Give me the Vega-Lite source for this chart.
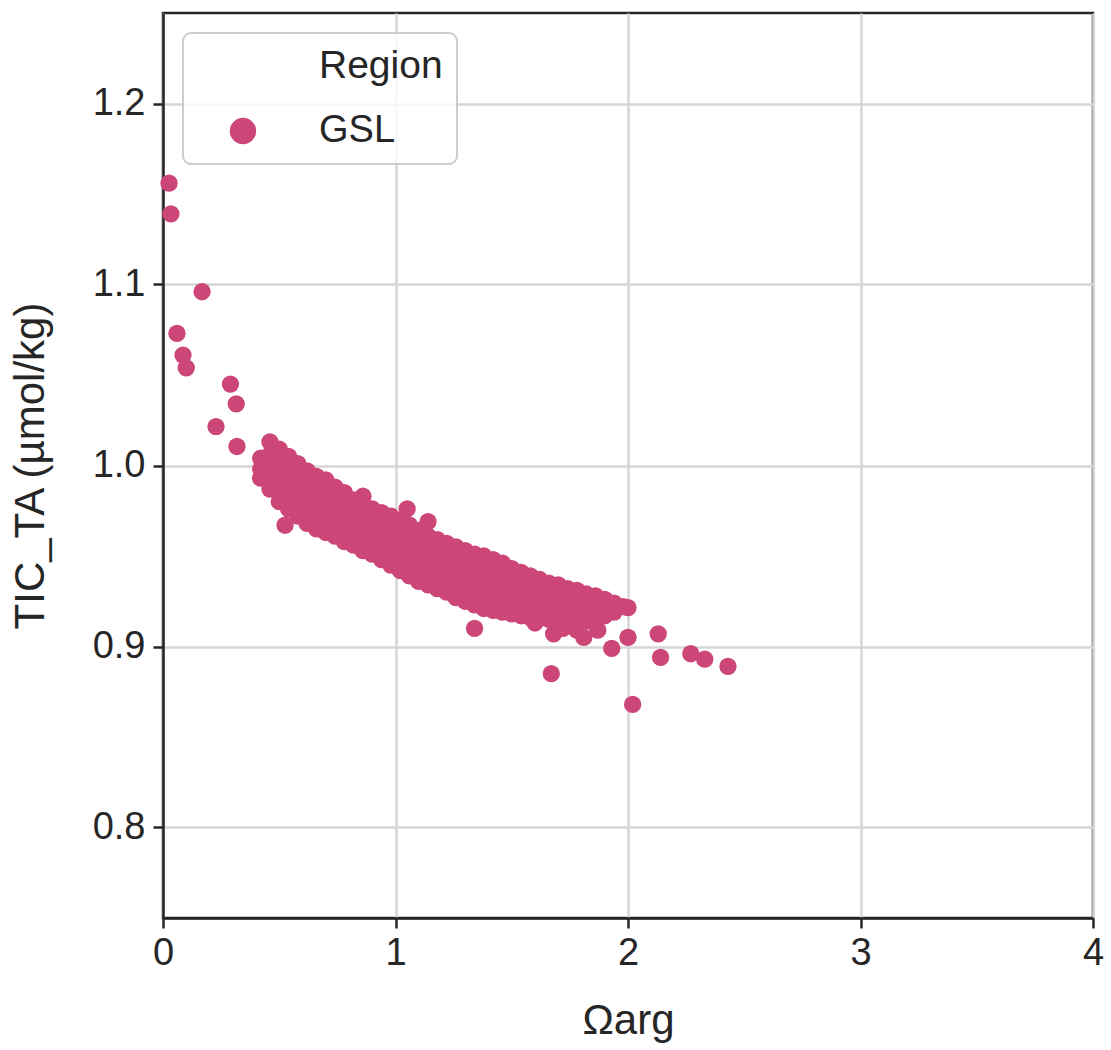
{
  "$schema": "https://vega.github.io/schema/vega-lite/v6.json",
  "width": 930,
  "height": 905,
  "autosize": {"type": "none"},
  "padding": {"left": 163, "top": 13, "right": 18, "bottom": 132},
  "background": "white",
  "config": {
    "font": "Liberation Sans",
    "view": {"stroke": "#262626", "strokeWidth": 2.5},
    "axis": {
      "domainColor": "#262626",
      "domainWidth": 2.5,
      "tickColor": "#262626",
      "tickWidth": 2.5,
      "tickSize": 10,
      "gridColor": "#d6d6d6",
      "gridWidth": 2.5,
      "labelFontSize": 38,
      "labelColor": "#262626",
      "labelFlush": false,
      "labelOverlap": false,
      "titleFontSize": 42,
      "titleFontWeight": "normal",
      "titleColor": "#262626"
    }
  },
  "data": {
    "values": [
      {"Region": "GSL", "omega": 0.026, "tic": 1.156},
      {"Region": "GSL", "omega": 0.034, "tic": 1.139},
      {"Region": "GSL", "omega": 0.168, "tic": 1.096},
      {"Region": "GSL", "omega": 0.06, "tic": 1.073},
      {"Region": "GSL", "omega": 0.086, "tic": 1.061},
      {"Region": "GSL", "omega": 0.1, "tic": 1.054},
      {"Region": "GSL", "omega": 0.29, "tic": 1.045},
      {"Region": "GSL", "omega": 0.315, "tic": 1.034},
      {"Region": "GSL", "omega": 0.228, "tic": 1.0215},
      {"Region": "GSL", "omega": 0.318, "tic": 1.0105},
      {"Region": "GSL", "omega": 0.42, "tic": 1.004},
      {"Region": "GSL", "omega": 0.42, "tic": 0.998},
      {"Region": "GSL", "omega": 0.42, "tic": 0.993},
      {"Region": "GSL", "omega": 0.46, "tic": 1.013},
      {"Region": "GSL", "omega": 0.46, "tic": 1.006},
      {"Region": "GSL", "omega": 0.46, "tic": 1.0},
      {"Region": "GSL", "omega": 0.46, "tic": 0.993},
      {"Region": "GSL", "omega": 0.46, "tic": 0.987},
      {"Region": "GSL", "omega": 0.5, "tic": 1.009},
      {"Region": "GSL", "omega": 0.5, "tic": 1.002},
      {"Region": "GSL", "omega": 0.5, "tic": 0.995},
      {"Region": "GSL", "omega": 0.5, "tic": 0.987},
      {"Region": "GSL", "omega": 0.5, "tic": 0.98},
      {"Region": "GSL", "omega": 0.54, "tic": 1.005},
      {"Region": "GSL", "omega": 0.54, "tic": 0.998},
      {"Region": "GSL", "omega": 0.54, "tic": 0.99},
      {"Region": "GSL", "omega": 0.54, "tic": 0.983},
      {"Region": "GSL", "omega": 0.54, "tic": 0.976},
      {"Region": "GSL", "omega": 0.58, "tic": 1.001},
      {"Region": "GSL", "omega": 0.58, "tic": 0.994},
      {"Region": "GSL", "omega": 0.58, "tic": 0.987},
      {"Region": "GSL", "omega": 0.58, "tic": 0.979},
      {"Region": "GSL", "omega": 0.58, "tic": 0.972},
      {"Region": "GSL", "omega": 0.62, "tic": 0.997},
      {"Region": "GSL", "omega": 0.62, "tic": 0.99},
      {"Region": "GSL", "omega": 0.62, "tic": 0.983},
      {"Region": "GSL", "omega": 0.62, "tic": 0.975},
      {"Region": "GSL", "omega": 0.62, "tic": 0.968},
      {"Region": "GSL", "omega": 0.66, "tic": 0.994},
      {"Region": "GSL", "omega": 0.66, "tic": 0.987},
      {"Region": "GSL", "omega": 0.66, "tic": 0.98},
      {"Region": "GSL", "omega": 0.66, "tic": 0.972},
      {"Region": "GSL", "omega": 0.66, "tic": 0.965},
      {"Region": "GSL", "omega": 0.7, "tic": 0.992},
      {"Region": "GSL", "omega": 0.7, "tic": 0.985},
      {"Region": "GSL", "omega": 0.7, "tic": 0.978},
      {"Region": "GSL", "omega": 0.7, "tic": 0.97},
      {"Region": "GSL", "omega": 0.7, "tic": 0.963},
      {"Region": "GSL", "omega": 0.74, "tic": 0.988},
      {"Region": "GSL", "omega": 0.74, "tic": 0.981},
      {"Region": "GSL", "omega": 0.74, "tic": 0.974},
      {"Region": "GSL", "omega": 0.74, "tic": 0.967},
      {"Region": "GSL", "omega": 0.74, "tic": 0.961},
      {"Region": "GSL", "omega": 0.78, "tic": 0.985},
      {"Region": "GSL", "omega": 0.78, "tic": 0.978},
      {"Region": "GSL", "omega": 0.78, "tic": 0.971},
      {"Region": "GSL", "omega": 0.78, "tic": 0.964},
      {"Region": "GSL", "omega": 0.78, "tic": 0.958},
      {"Region": "GSL", "omega": 0.82, "tic": 0.981},
      {"Region": "GSL", "omega": 0.82, "tic": 0.975},
      {"Region": "GSL", "omega": 0.82, "tic": 0.968},
      {"Region": "GSL", "omega": 0.82, "tic": 0.962},
      {"Region": "GSL", "omega": 0.82, "tic": 0.956},
      {"Region": "GSL", "omega": 0.86, "tic": 0.983},
      {"Region": "GSL", "omega": 0.86, "tic": 0.978},
      {"Region": "GSL", "omega": 0.86, "tic": 0.972},
      {"Region": "GSL", "omega": 0.86, "tic": 0.966},
      {"Region": "GSL", "omega": 0.86, "tic": 0.959},
      {"Region": "GSL", "omega": 0.86, "tic": 0.953},
      {"Region": "GSL", "omega": 0.9, "tic": 0.976},
      {"Region": "GSL", "omega": 0.9, "tic": 0.97},
      {"Region": "GSL", "omega": 0.9, "tic": 0.963},
      {"Region": "GSL", "omega": 0.9, "tic": 0.957},
      {"Region": "GSL", "omega": 0.9, "tic": 0.951},
      {"Region": "GSL", "omega": 0.94, "tic": 0.974},
      {"Region": "GSL", "omega": 0.94, "tic": 0.967},
      {"Region": "GSL", "omega": 0.94, "tic": 0.961},
      {"Region": "GSL", "omega": 0.94, "tic": 0.954},
      {"Region": "GSL", "omega": 0.94, "tic": 0.948},
      {"Region": "GSL", "omega": 0.98, "tic": 0.972},
      {"Region": "GSL", "omega": 0.98, "tic": 0.965},
      {"Region": "GSL", "omega": 0.98, "tic": 0.958},
      {"Region": "GSL", "omega": 0.98, "tic": 0.952},
      {"Region": "GSL", "omega": 0.98, "tic": 0.945},
      {"Region": "GSL", "omega": 1.02, "tic": 0.97},
      {"Region": "GSL", "omega": 1.02, "tic": 0.963},
      {"Region": "GSL", "omega": 1.02, "tic": 0.956},
      {"Region": "GSL", "omega": 1.02, "tic": 0.949},
      {"Region": "GSL", "omega": 1.02, "tic": 0.942},
      {"Region": "GSL", "omega": 1.05, "tic": 0.976},
      {"Region": "GSL", "omega": 1.06, "tic": 0.967},
      {"Region": "GSL", "omega": 1.06, "tic": 0.96},
      {"Region": "GSL", "omega": 1.06, "tic": 0.953},
      {"Region": "GSL", "omega": 1.06, "tic": 0.946},
      {"Region": "GSL", "omega": 1.06, "tic": 0.939},
      {"Region": "GSL", "omega": 1.1, "tic": 0.964},
      {"Region": "GSL", "omega": 1.1, "tic": 0.957},
      {"Region": "GSL", "omega": 1.1, "tic": 0.95},
      {"Region": "GSL", "omega": 1.1, "tic": 0.943},
      {"Region": "GSL", "omega": 1.1, "tic": 0.936},
      {"Region": "GSL", "omega": 1.14, "tic": 0.969},
      {"Region": "GSL", "omega": 1.14, "tic": 0.961},
      {"Region": "GSL", "omega": 1.14, "tic": 0.954},
      {"Region": "GSL", "omega": 1.14, "tic": 0.948},
      {"Region": "GSL", "omega": 1.14, "tic": 0.941},
      {"Region": "GSL", "omega": 1.14, "tic": 0.934},
      {"Region": "GSL", "omega": 1.18, "tic": 0.959},
      {"Region": "GSL", "omega": 1.18, "tic": 0.952},
      {"Region": "GSL", "omega": 1.18, "tic": 0.946},
      {"Region": "GSL", "omega": 1.18, "tic": 0.939},
      {"Region": "GSL", "omega": 1.18, "tic": 0.932},
      {"Region": "GSL", "omega": 1.22, "tic": 0.957},
      {"Region": "GSL", "omega": 1.22, "tic": 0.95},
      {"Region": "GSL", "omega": 1.22, "tic": 0.944},
      {"Region": "GSL", "omega": 1.22, "tic": 0.937},
      {"Region": "GSL", "omega": 1.22, "tic": 0.93},
      {"Region": "GSL", "omega": 1.26, "tic": 0.955},
      {"Region": "GSL", "omega": 1.26, "tic": 0.948},
      {"Region": "GSL", "omega": 1.26, "tic": 0.941},
      {"Region": "GSL", "omega": 1.26, "tic": 0.934},
      {"Region": "GSL", "omega": 1.26, "tic": 0.927},
      {"Region": "GSL", "omega": 1.3, "tic": 0.953},
      {"Region": "GSL", "omega": 1.3, "tic": 0.946},
      {"Region": "GSL", "omega": 1.3, "tic": 0.939},
      {"Region": "GSL", "omega": 1.3, "tic": 0.932},
      {"Region": "GSL", "omega": 1.3, "tic": 0.925},
      {"Region": "GSL", "omega": 1.34, "tic": 0.951},
      {"Region": "GSL", "omega": 1.34, "tic": 0.944},
      {"Region": "GSL", "omega": 1.34, "tic": 0.937},
      {"Region": "GSL", "omega": 1.34, "tic": 0.93},
      {"Region": "GSL", "omega": 1.34, "tic": 0.923},
      {"Region": "GSL", "omega": 1.34, "tic": 0.91},
      {"Region": "GSL", "omega": 1.38, "tic": 0.95},
      {"Region": "GSL", "omega": 1.38, "tic": 0.943},
      {"Region": "GSL", "omega": 1.38, "tic": 0.935},
      {"Region": "GSL", "omega": 1.38, "tic": 0.928},
      {"Region": "GSL", "omega": 1.38, "tic": 0.921},
      {"Region": "GSL", "omega": 1.42, "tic": 0.948},
      {"Region": "GSL", "omega": 1.42, "tic": 0.941},
      {"Region": "GSL", "omega": 1.42, "tic": 0.934},
      {"Region": "GSL", "omega": 1.42, "tic": 0.927},
      {"Region": "GSL", "omega": 1.42, "tic": 0.92},
      {"Region": "GSL", "omega": 1.46, "tic": 0.946},
      {"Region": "GSL", "omega": 1.46, "tic": 0.939},
      {"Region": "GSL", "omega": 1.46, "tic": 0.932},
      {"Region": "GSL", "omega": 1.46, "tic": 0.926},
      {"Region": "GSL", "omega": 1.46, "tic": 0.919},
      {"Region": "GSL", "omega": 1.5, "tic": 0.943},
      {"Region": "GSL", "omega": 1.5, "tic": 0.937},
      {"Region": "GSL", "omega": 1.5, "tic": 0.93},
      {"Region": "GSL", "omega": 1.5, "tic": 0.924},
      {"Region": "GSL", "omega": 1.5, "tic": 0.918},
      {"Region": "GSL", "omega": 1.54, "tic": 0.941},
      {"Region": "GSL", "omega": 1.54, "tic": 0.935},
      {"Region": "GSL", "omega": 1.54, "tic": 0.929},
      {"Region": "GSL", "omega": 1.54, "tic": 0.923},
      {"Region": "GSL", "omega": 1.54, "tic": 0.917},
      {"Region": "GSL", "omega": 1.58, "tic": 0.939},
      {"Region": "GSL", "omega": 1.58, "tic": 0.933},
      {"Region": "GSL", "omega": 1.58, "tic": 0.927},
      {"Region": "GSL", "omega": 1.58, "tic": 0.922},
      {"Region": "GSL", "omega": 1.58, "tic": 0.916},
      {"Region": "GSL", "omega": 1.6, "tic": 0.913},
      {"Region": "GSL", "omega": 1.62, "tic": 0.937},
      {"Region": "GSL", "omega": 1.62, "tic": 0.93},
      {"Region": "GSL", "omega": 1.62, "tic": 0.923},
      {"Region": "GSL", "omega": 1.62, "tic": 0.916},
      {"Region": "GSL", "omega": 1.66, "tic": 0.935},
      {"Region": "GSL", "omega": 1.66, "tic": 0.928},
      {"Region": "GSL", "omega": 1.66, "tic": 0.922},
      {"Region": "GSL", "omega": 1.66, "tic": 0.915},
      {"Region": "GSL", "omega": 1.68, "tic": 0.907},
      {"Region": "GSL", "omega": 1.67, "tic": 0.885},
      {"Region": "GSL", "omega": 1.7, "tic": 0.934},
      {"Region": "GSL", "omega": 1.7, "tic": 0.928},
      {"Region": "GSL", "omega": 1.7, "tic": 0.921},
      {"Region": "GSL", "omega": 1.7, "tic": 0.915},
      {"Region": "GSL", "omega": 1.72, "tic": 0.91},
      {"Region": "GSL", "omega": 1.74, "tic": 0.932},
      {"Region": "GSL", "omega": 1.74, "tic": 0.926},
      {"Region": "GSL", "omega": 1.74, "tic": 0.92},
      {"Region": "GSL", "omega": 1.74, "tic": 0.914},
      {"Region": "GSL", "omega": 1.78, "tic": 0.931},
      {"Region": "GSL", "omega": 1.78, "tic": 0.925},
      {"Region": "GSL", "omega": 1.78, "tic": 0.919},
      {"Region": "GSL", "omega": 1.78, "tic": 0.914},
      {"Region": "GSL", "omega": 1.78, "tic": 0.909},
      {"Region": "GSL", "omega": 1.81, "tic": 0.905},
      {"Region": "GSL", "omega": 1.82, "tic": 0.929},
      {"Region": "GSL", "omega": 1.82, "tic": 0.922},
      {"Region": "GSL", "omega": 1.82, "tic": 0.914},
      {"Region": "GSL", "omega": 1.86, "tic": 0.928},
      {"Region": "GSL", "omega": 1.86, "tic": 0.921},
      {"Region": "GSL", "omega": 1.86, "tic": 0.915},
      {"Region": "GSL", "omega": 1.87, "tic": 0.909},
      {"Region": "GSL", "omega": 1.9, "tic": 0.926},
      {"Region": "GSL", "omega": 1.9, "tic": 0.921},
      {"Region": "GSL", "omega": 1.9, "tic": 0.917},
      {"Region": "GSL", "omega": 1.93, "tic": 0.899},
      {"Region": "GSL", "omega": 1.94, "tic": 0.924},
      {"Region": "GSL", "omega": 1.94, "tic": 0.919},
      {"Region": "GSL", "omega": 1.98, "tic": 0.922},
      {"Region": "GSL", "omega": 2.0, "tic": 0.9215},
      {"Region": "GSL", "omega": 2.0, "tic": 0.905},
      {"Region": "GSL", "omega": 2.02, "tic": 0.868},
      {"Region": "GSL", "omega": 2.13, "tic": 0.907},
      {"Region": "GSL", "omega": 2.14, "tic": 0.894},
      {"Region": "GSL", "omega": 2.27, "tic": 0.896},
      {"Region": "GSL", "omega": 2.33, "tic": 0.893},
      {"Region": "GSL", "omega": 2.43, "tic": 0.889},
      {"Region": "GSL", "omega": 0.525, "tic": 0.967}
    ]
  },
  "mark": {"type": "circle", "size": 300, "opacity": 1, "strokeWidth": 0},
  "encoding": {
    "x": {
      "field": "omega",
      "type": "quantitative",
      "scale": {"domain": [0, 4], "nice": false, "zero": false},
      "axis": {
        "values": [0, 1, 2, 3, 4],
        "format": "d",
        "title": "Ωarg",
        "labelPadding": 6,
        "titlePadding": 28
      }
    },
    "y": {
      "field": "tic",
      "type": "quantitative",
      "scale": {"domain": [0.75, 1.25], "nice": false, "zero": false},
      "axis": {
        "values": [0.8, 0.9, 1.0, 1.1, 1.2],
        "format": ".1f",
        "title": "TIC_TA (µmol/kg)",
        "labelPadding": 8,
        "titlePadding": 40
      }
    },
    "color": {
      "field": "Region",
      "type": "nominal",
      "scale": {"range": ["#cc4778"]},
      "legend": {
        "orient": "top-left",
        "offset": 20,
        "title": "Region",
        "titleFontSize": 39,
        "titleFontWeight": "normal",
        "titleColor": "#262626",
        "titlePadding": 26,
        "labelFontSize": 38,
        "labelColor": "#262626",
        "labelOffset": 57,
        "symbolType": "circle",
        "symbolSize": 700,
        "symbolStrokeWidth": 0,
        "symbolOpacity": 1,
        "symbolOffset": 27,
        "padding": 14,
        "fillColor": "rgba(255,255,255,0.8)",
        "strokeColor": "#cccccc",
        "cornerRadius": 8,
        "encode": {
          "title": {"update": {"dx": {"value": 122}}},
          "legend": {"update": {"strokeWidth": {"value": 2}}}
        }
      }
    }
  }
}
